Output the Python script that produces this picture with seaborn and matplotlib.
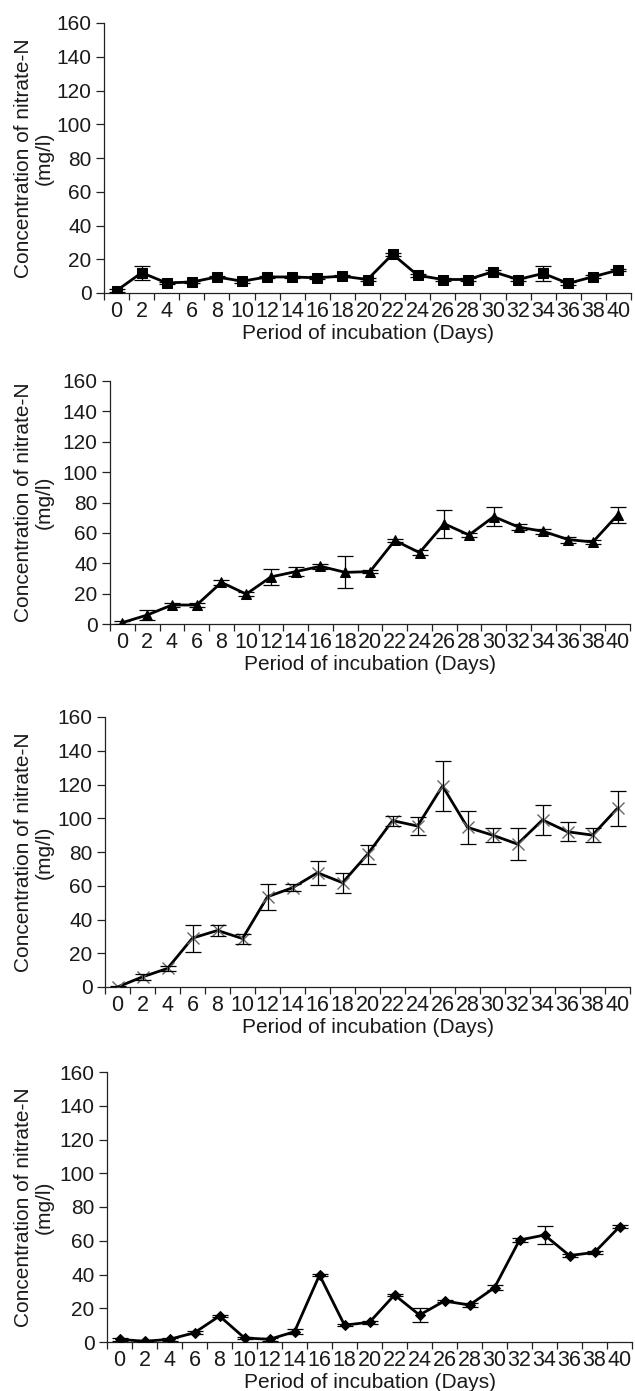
import numpy as np
import pandas as pd
import matplotlib
matplotlib.use("Agg")
import matplotlib.pyplot as plt
import seaborn as sns

sns.set_style("ticks")
plt.rcParams['font.family'] = ['Liberation Sans', 'DejaVu Sans']

days = [0, 2, 4, 6, 8, 10, 12, 14, 16, 18, 20, 22, 24, 26, 28, 30, 32, 34, 36, 38, 40]
day_labels = [str(d) for d in days]
y_ticks = [0, 20, 40, 60, 80, 100, 120, 140, 160]

conc_a = [1.4, 12.0, 6.0, 6.5, 9.5, 7.0, 9.5, 9.5, 9.0, 10.0, 8.0, 23.0, 10.5, 8.0, 8.0, 12.6, 8.0, 11.6, 5.7, 9.7, 13.6]
err_a = [0.8, 4.2, 0.8, 0.8, 0.8, 0.8, 0.8, 0.8, 0.8, 0.8, 0.8, 0.8, 0.8, 0.8, 0.8, 0.8, 0.8, 4.5, 0.8, 0.8, 0.8]

conc_b = [0.9, 5.9, 12.5, 12.5, 27.4, 19.7, 31.0, 34.5, 38.0, 34.0, 34.5, 55.0, 47.0, 66.0, 58.6, 70.7, 63.8, 61.0, 55.6, 54.0, 71.8]
err_b = [0.8, 3.0, 1.2, 1.2, 1.5, 1.5, 5.0, 3.0, 1.5, 10.5, 1.2, 1.2, 1.5, 9.3, 1.5, 6.4, 2.0, 1.5, 2.0, 1.5, 5.0]

conc_c = [0.0, 6.0, 11.0, 29.0, 33.5, 28.7, 53.5, 58.8, 67.7, 61.8, 78.6, 98.6, 95.4, 119.1, 94.6, 90.0, 84.7, 99.0, 92.0, 90.0, 105.9]
err_c = [0.8, 2.0, 1.5, 8.0, 3.0, 3.0, 7.8, 2.0, 7.0, 6.0, 5.5, 3.0, 5.6, 14.6, 9.8, 4.3, 9.6, 8.9, 5.5, 4.0, 10.5]

conc_d = [1.6, 0.4, 1.6, 5.5, 15.4, 2.4, 1.6, 6.1, 39.7, 10.0, 11.7, 27.9, 16.0, 24.3, 21.9, 32.2, 60.4, 63.4, 51.2, 53.1, 68.3]
err_d = [0.8, 0.6, 0.8, 0.8, 0.8, 0.8, 0.8, 1.5, 0.8, 0.8, 0.8, 0.8, 4.2, 0.8, 1.2, 1.5, 1.2, 5.1, 0.8, 0.8, 0.8]

xlabel = "Period of incubation (Days)"
ylabel = "Concentration of nitrate-N\n(mg/l)"

W, H = 635, 1391
fig = plt.figure(figsize=(W / 100, H / 100), dpi=100)

# (left px, right px, top px, bottom px)
boxes = [(104, 631, 23, 293), (110, 630, 381, 624), (105, 630, 717, 987), (107, 632, 1072, 1342)]
series = [
    (conc_a, err_a, dict(marker="s", markersize=7, markerfacecolor="black", markeredgecolor="black")),
    (conc_b, err_b, dict(marker="^", markersize=7, markerfacecolor="black", markeredgecolor="black")),
    (conc_c, err_c, dict(marker="x", markersize=8, markeredgecolor="#666666", markeredgewidth=1.0)),
    (conc_d, err_d, dict(marker="D", markersize=5, markerfacecolor="black", markeredgecolor="black")),
]

txt = "#1a1a1a"
for (l, r, t, b), (vals, errs, mk) in zip(boxes, series):
    ax = fig.add_axes([l / W, (H - b) / H, (r - l) / W, (b - t) / H])
    df = pd.DataFrame({"day": days, "conc": vals})
    sns.lineplot(data=df, x="day", y="conc", ax=ax, color="black", linewidth=2.0,
                 zorder=3, **mk)
    ax.errorbar(days, vals, yerr=errs, fmt="none", ecolor="black", elinewidth=0.9,
                capsize=5.5, capthick=0.9, zorder=4)
    ax.set_xlim(-1, 41)
    ax.set_ylim(0, 160)
    ax.set_yticks(y_ticks)
    ax.set_yticklabels([str(v) for v in y_ticks], fontsize=15, color=txt)
    ax.set_xticks(days)
    ax.set_xticklabels(day_labels, fontsize=15.5, color=txt)
    ax.set_xticks(np.arange(-1, 42, 2), minor=True)
    ax.tick_params(axis="x", which="major", length=0, pad=6)
    ax.tick_params(axis="x", which="minor", length=5, width=0.9, direction="out", color="#222222")
    ax.tick_params(axis="y", which="major", length=6, width=0.9, direction="out", pad=3, color="#222222")
    for s in ["top", "right"]:
        ax.spines[s].set_visible(False)
    for s in ["left", "bottom"]:
        ax.spines[s].set_linewidth(0.9)
        ax.spines[s].set_color("#222222")
    ax.set_xlabel(xlabel, fontsize=15, color=txt, labelpad=1)
    ax.set_ylabel(ylabel, fontsize=15, color=txt, va="center", ha="center", linespacing=1.1)
    ax.yaxis.set_label_coords((34 - l) / (r - l), 0.5)

fig.savefig("out.png", dpi=100, facecolor="white")
